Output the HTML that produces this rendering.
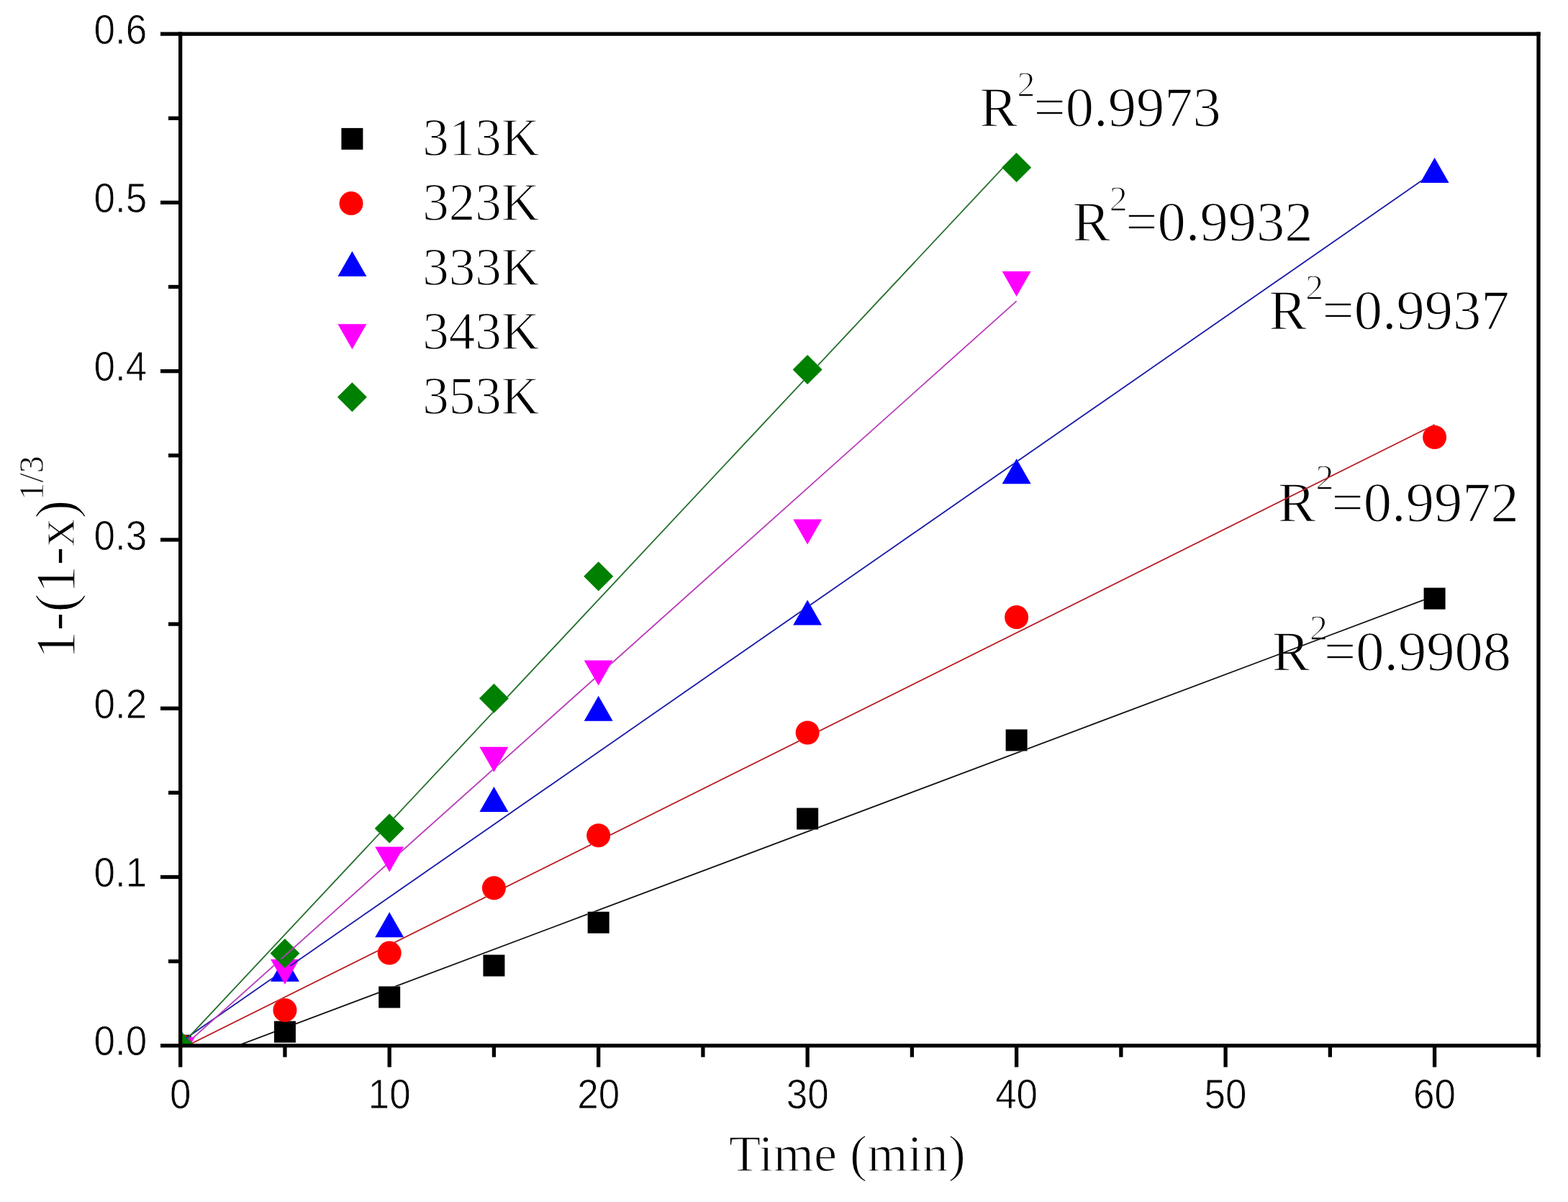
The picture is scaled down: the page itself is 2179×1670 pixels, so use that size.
<!DOCTYPE html><html><head><meta charset="utf-8"><title>1-(1-x)^1/3 vs Time</title><style>html,body{margin:0;padding:0;background:#fff;overflow:hidden}svg{display:block}</style></head><body>
<svg width="2179" height="1670" viewBox="0 0 2179 1670">
<rect x="0" y="0" width="2179" height="1670" fill="#fff"/>
<defs><clipPath id="pa"><rect x="250.65" y="47.15" width="1887.35" height="1405.6"/></clipPath></defs>
<defs>
<g id="mkK"><rect x="235.70" y="1437.75" width="30.0" height="30.0"/><rect x="380.94" y="1418.60" width="30.0" height="30.0"/><rect x="526.18" y="1370.40" width="30.0" height="30.0"/><rect x="671.42" y="1326.50" width="30.0" height="30.0"/><rect x="816.66" y="1266.70" width="30.0" height="30.0"/><rect x="1107.14" y="1122.50" width="30.0" height="30.0"/><rect x="1397.62" y="1013.40" width="30.0" height="30.0"/><rect x="1978.58" y="816.60" width="30.0" height="30.0"/></g>
<g id="mkR"><circle cx="250.70" cy="1452.75" r="16.5"/><circle cx="395.94" cy="1403.40" r="16.5"/><circle cx="541.18" cy="1324.10" r="16.5"/><circle cx="686.42" cy="1233.80" r="16.5"/><circle cx="831.66" cy="1160.70" r="16.5"/><circle cx="1122.14" cy="1018.00" r="16.5"/><circle cx="1412.62" cy="857.60" r="16.5"/><circle cx="1993.58" cy="607.50" r="16.5"/></g>
<g id="mkB"><polygon points="250.70,1429.42 270.70,1464.42 230.70,1464.42"/><polygon points="395.94,1328.80 415.94,1363.80 375.94,1363.80"/><polygon points="541.18,1267.30 561.18,1302.30 521.18,1302.30"/><polygon points="686.42,1093.00 706.42,1128.00 666.42,1128.00"/><polygon points="831.66,966.80 851.66,1001.80 811.66,1001.80"/><polygon points="1122.14,833.60 1142.14,868.60 1102.14,868.60"/><polygon points="1412.62,637.20 1432.62,672.20 1392.62,672.20"/><polygon points="1993.58,218.90 2013.58,253.90 1973.58,253.90"/></g>
<g id="mkM"><polygon points="230.70,1441.08 270.70,1441.08 250.70,1476.08"/><polygon points="375.94,1332.80 415.94,1332.80 395.94,1367.80"/><polygon points="521.18,1176.60 561.18,1176.60 541.18,1211.60"/><polygon points="666.42,1037.70 706.42,1037.70 686.42,1072.70"/><polygon points="811.66,917.60 851.66,917.60 831.66,952.60"/><polygon points="1102.14,721.60 1142.14,721.60 1122.14,756.60"/><polygon points="1392.62,376.90 1432.62,376.90 1412.62,411.90"/></g>
<g id="mkG"><polygon points="250.70,1432.25 271.20,1452.75 250.70,1473.25 230.20,1452.75"/><polygon points="395.94,1304.10 416.44,1324.60 395.94,1345.10 375.44,1324.60"/><polygon points="541.18,1130.50 561.68,1151.00 541.18,1171.50 520.68,1151.00"/><polygon points="686.42,949.70 706.92,970.20 686.42,990.70 665.92,970.20"/><polygon points="831.66,780.30 852.16,800.80 831.66,821.30 811.16,800.80"/><polygon points="1122.14,493.00 1142.64,513.50 1122.14,534.00 1101.64,513.50"/><polygon points="1412.62,212.30 1433.12,232.80 1412.62,253.30 1392.12,232.80"/></g>
<mask id="maskK" maskUnits="userSpaceOnUse" x="0" y="0" width="2179" height="1670"><rect x="0" y="0" width="2179" height="1670" fill="#fff"/><use href="#mkK" fill="#000"/></mask>
<mask id="maskR" maskUnits="userSpaceOnUse" x="0" y="0" width="2179" height="1670"><rect x="0" y="0" width="2179" height="1670" fill="#fff"/><use href="#mkR" fill="#000"/></mask>
<mask id="maskB" maskUnits="userSpaceOnUse" x="0" y="0" width="2179" height="1670"><rect x="0" y="0" width="2179" height="1670" fill="#fff"/><use href="#mkB" fill="#000"/></mask>
<mask id="maskM" maskUnits="userSpaceOnUse" x="0" y="0" width="2179" height="1670"><rect x="0" y="0" width="2179" height="1670" fill="#fff"/><use href="#mkM" fill="#000"/></mask>
<mask id="maskG" maskUnits="userSpaceOnUse" x="0" y="0" width="2179" height="1670"><rect x="0" y="0" width="2179" height="1670" fill="#fff"/><use href="#mkG" fill="#000"/></mask>
</defs>
<g clip-path="url(#pa)">
<use href="#mkK" fill="#000"/>
<use href="#mkR" fill="#f00"/>
<use href="#mkB" fill="#00f"/>
<use href="#mkM" fill="#f0f"/>
<use href="#mkG" fill="#008000"/>
</g>
<text font-family='"Liberation Serif", "Times New Roman", serif' font-size="78.5" stroke="#fff" stroke-width="1.3"><tspan x="1361.4" y="175.0">R</tspan><tspan x="1413.4" y="133.6" font-size="50">2</tspan><tspan x="1436.5" y="175.0">=0.9973</tspan></text>
<text font-family='"Liberation Serif", "Times New Roman", serif' font-size="78.5" stroke="#fff" stroke-width="1.3"><tspan x="1490.4" y="333.5">R</tspan><tspan x="1541.8" y="292.7" font-size="50">2</tspan><tspan x="1564.3" y="333.5">=0.9932</tspan></text>
<text font-family='"Liberation Serif", "Times New Roman", serif' font-size="78.5" stroke="#fff" stroke-width="1.3"><tspan x="1763.4" y="456.6">R</tspan><tspan x="1814.2" y="415.5" font-size="50">2</tspan><tspan x="1837.4" y="456.6">=0.9937</tspan></text>
<text font-family='"Liberation Serif", "Times New Roman", serif' font-size="78.5" stroke="#fff" stroke-width="1.3"><tspan x="1775.9" y="723.5">R</tspan><tspan x="1828.4" y="680.3" font-size="50">2</tspan><tspan x="1850.6" y="723.5">=0.9972</tspan></text>
<text font-family='"Liberation Serif", "Times New Roman", serif' font-size="78.5" stroke="#fff" stroke-width="1.3"><tspan x="1767.7" y="931.4">R</tspan><tspan x="1820.0" y="888.5" font-size="50">2</tspan><tspan x="1839.9" y="931.4">=0.9908</tspan></text>
<g clip-path="url(#pa)">
<line x1="250.70" y1="1482.70" x2="1993.58" y2="827.90" stroke="#111" stroke-width="1.8" mask="url(#maskK)"/>
<line x1="250.70" y1="1457.50" x2="1993.58" y2="590.00" stroke="#b81c22" stroke-width="1.8" mask="url(#maskR)"/>
<line x1="250.70" y1="1447.90" x2="1993.58" y2="238.50" stroke="#1a1aa8" stroke-width="1.8" mask="url(#maskB)"/>
<line x1="250.70" y1="1457.70" x2="1412.62" y2="418.30" stroke="#b83cba" stroke-width="1.8" mask="url(#maskM)"/>
<line x1="250.70" y1="1453.40" x2="1412.62" y2="213.00" stroke="#23702a" stroke-width="1.8" mask="url(#maskG)"/>
</g>
<rect x="248.00" y="44.50" width="1892.65" height="5.3" fill="#000"/>
<rect x="248.00" y="1450.10" width="1892.65" height="5.3" fill="#000"/>
<rect x="248.00" y="44.50" width="5.3" height="1410.90" fill="#000"/>
<rect x="2135.35" y="44.50" width="5.3" height="1410.90" fill="#000"/>
<rect x="223.00" y="1450.10" width="27.65" height="5.3" fill="#000"/>
<rect x="223.00" y="1215.83" width="27.65" height="5.3" fill="#000"/>
<rect x="223.00" y="981.56" width="27.65" height="5.3" fill="#000"/>
<rect x="223.00" y="747.29" width="27.65" height="5.3" fill="#000"/>
<rect x="223.00" y="513.02" width="27.65" height="5.3" fill="#000"/>
<rect x="223.00" y="278.75" width="27.65" height="5.3" fill="#000"/>
<rect x="223.00" y="44.48" width="27.65" height="5.3" fill="#000"/>
<rect x="234.00" y="1332.96" width="16.65" height="5.3" fill="#000"/>
<rect x="234.00" y="1098.69" width="16.65" height="5.3" fill="#000"/>
<rect x="234.00" y="864.43" width="16.65" height="5.3" fill="#000"/>
<rect x="234.00" y="630.15" width="16.65" height="5.3" fill="#000"/>
<rect x="234.00" y="395.89" width="16.65" height="5.3" fill="#000"/>
<rect x="234.00" y="161.62" width="16.65" height="5.3" fill="#000"/>
<rect x="248.05" y="1452.75" width="5.3" height="29.85" fill="#000"/>
<rect x="538.53" y="1452.75" width="5.3" height="29.85" fill="#000"/>
<rect x="829.01" y="1452.75" width="5.3" height="29.85" fill="#000"/>
<rect x="1119.49" y="1452.75" width="5.3" height="29.85" fill="#000"/>
<rect x="1409.97" y="1452.75" width="5.3" height="29.85" fill="#000"/>
<rect x="1700.45" y="1452.75" width="5.3" height="29.85" fill="#000"/>
<rect x="1990.93" y="1452.75" width="5.3" height="29.85" fill="#000"/>
<rect x="393.29" y="1452.75" width="5.3" height="15.95" fill="#000"/>
<rect x="683.77" y="1452.75" width="5.3" height="15.95" fill="#000"/>
<rect x="974.25" y="1452.75" width="5.3" height="15.95" fill="#000"/>
<rect x="1264.73" y="1452.75" width="5.3" height="15.95" fill="#000"/>
<rect x="1555.21" y="1452.75" width="5.3" height="15.95" fill="#000"/>
<rect x="1845.69" y="1452.75" width="5.3" height="15.95" fill="#000"/>
<rect x="2135.35" y="1452.75" width="5.3" height="15.95" fill="#000"/>
<text transform="translate(204.3,1466.35) scale(0.93,1)" font-family='"Liberation Sans", Arial, sans-serif' font-size="57" text-anchor="end" stroke="#fff" stroke-width="0.8">0.0</text>
<text transform="translate(204.3,1232.08) scale(0.93,1)" font-family='"Liberation Sans", Arial, sans-serif' font-size="57" text-anchor="end" stroke="#fff" stroke-width="0.8">0.1</text>
<text transform="translate(204.3,997.81) scale(0.93,1)" font-family='"Liberation Sans", Arial, sans-serif' font-size="57" text-anchor="end" stroke="#fff" stroke-width="0.8">0.2</text>
<text transform="translate(204.3,763.54) scale(0.93,1)" font-family='"Liberation Sans", Arial, sans-serif' font-size="57" text-anchor="end" stroke="#fff" stroke-width="0.8">0.3</text>
<text transform="translate(204.3,529.27) scale(0.93,1)" font-family='"Liberation Sans", Arial, sans-serif' font-size="57" text-anchor="end" stroke="#fff" stroke-width="0.8">0.4</text>
<text transform="translate(204.3,295.00) scale(0.93,1)" font-family='"Liberation Sans", Arial, sans-serif' font-size="57" text-anchor="end" stroke="#fff" stroke-width="0.8">0.5</text>
<text transform="translate(204.3,60.73) scale(0.93,1)" font-family='"Liberation Sans", Arial, sans-serif' font-size="57" text-anchor="end" stroke="#fff" stroke-width="0.8">0.6</text>
<text transform="translate(250.70,1540.0) scale(0.93,1)" font-family='"Liberation Sans", Arial, sans-serif' font-size="57" text-anchor="middle" stroke="#fff" stroke-width="0.8">0</text>
<text transform="translate(541.18,1540.0) scale(0.93,1)" font-family='"Liberation Sans", Arial, sans-serif' font-size="57" text-anchor="middle" stroke="#fff" stroke-width="0.8">10</text>
<text transform="translate(831.66,1540.0) scale(0.93,1)" font-family='"Liberation Sans", Arial, sans-serif' font-size="57" text-anchor="middle" stroke="#fff" stroke-width="0.8">20</text>
<text transform="translate(1122.14,1540.0) scale(0.93,1)" font-family='"Liberation Sans", Arial, sans-serif' font-size="57" text-anchor="middle" stroke="#fff" stroke-width="0.8">30</text>
<text transform="translate(1412.62,1540.0) scale(0.93,1)" font-family='"Liberation Sans", Arial, sans-serif' font-size="57" text-anchor="middle" stroke="#fff" stroke-width="0.8">40</text>
<text transform="translate(1703.10,1540.0) scale(0.93,1)" font-family='"Liberation Sans", Arial, sans-serif' font-size="57" text-anchor="middle" stroke="#fff" stroke-width="0.8">50</text>
<text transform="translate(1993.58,1540.0) scale(0.93,1)" font-family='"Liberation Sans", Arial, sans-serif' font-size="57" text-anchor="middle" stroke="#fff" stroke-width="0.8">60</text>
<text x="1013" y="1627.3" font-family='"Liberation Serif", "Times New Roman", serif' font-size="72.3" stroke="#fff" stroke-width="1.3">Time (min)</text>
<g transform="translate(103.2,915.5) rotate(-90)"><text x="0" y="0" font-family='"Liberation Serif", "Times New Roman", serif' font-size="78" stroke="#fff" stroke-width="1.4">1-(1-x)<tspan font-size="48" dy="-43.5" stroke-width="0.7">1/3</tspan></text></g>
<g fill="#000"><rect x="474.40" y="177.90" width="30.0" height="30.0"/></g>
<g fill="#f00"><circle cx="488.00" cy="282.60" r="16.5"/></g>
<g fill="#00f"><polygon points="489.40,348.97 509.40,383.97 469.40,383.97"/></g>
<g fill="#f0f"><polygon points="469.40,450.33 509.40,450.33 489.40,485.33"/></g>
<g fill="#008000"><polygon points="489.40,531.20 509.90,551.70 489.40,572.20 468.90,551.70"/></g>
<text x="587.2" y="216.20" font-family='"Liberation Serif", "Times New Roman", serif' font-size="73" stroke="#fff" stroke-width="1.3">313K</text>
<text x="587.2" y="305.90" font-family='"Liberation Serif", "Times New Roman", serif' font-size="73" stroke="#fff" stroke-width="1.3">323K</text>
<text x="587.2" y="395.60" font-family='"Liberation Serif", "Times New Roman", serif' font-size="73" stroke="#fff" stroke-width="1.3">333K</text>
<text x="587.2" y="485.30" font-family='"Liberation Serif", "Times New Roman", serif' font-size="73" stroke="#fff" stroke-width="1.3">343K</text>
<text x="587.2" y="575.00" font-family='"Liberation Serif", "Times New Roman", serif' font-size="73" stroke="#fff" stroke-width="1.3">353K</text>
</svg></body></html>
